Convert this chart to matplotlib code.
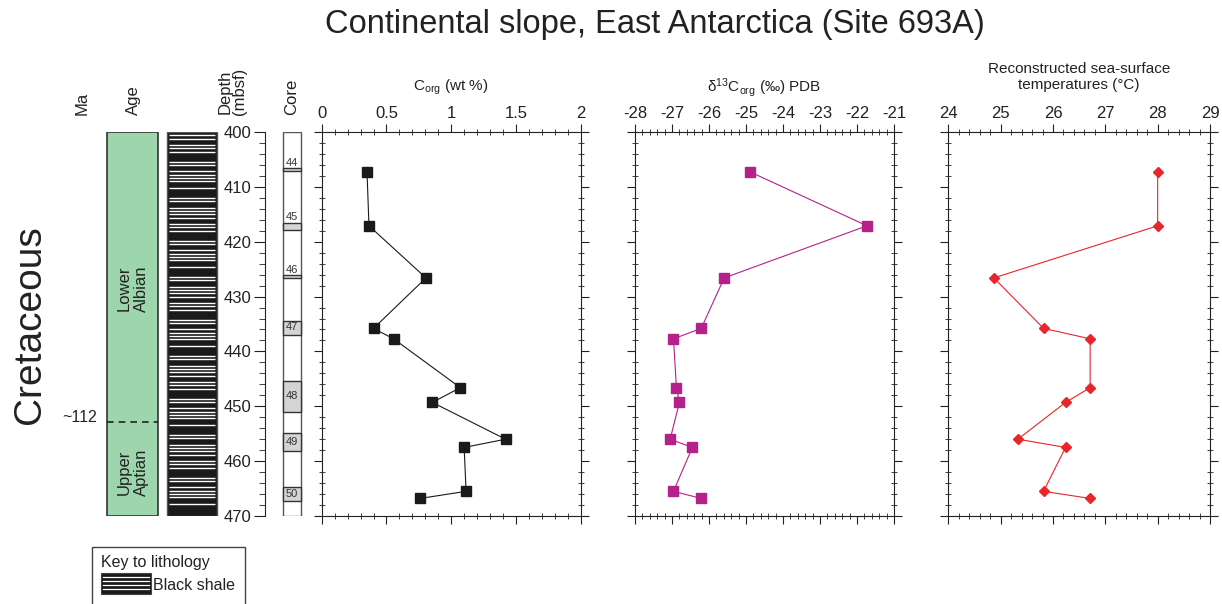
from matplotlib import pyplot as plt
from matplotlib.patches import Rectangle
from matplotlib.ticker import MultipleLocator
import numpy as np

plt.rcParams['font.family'] = ['Liberation Sans', 'DejaVu Sans']
plt.rcParams['mathtext.fontset'] = 'custom'
plt.rcParams['mathtext.rm'] = 'Liberation Sans'
plt.rcParams['mathtext.it'] = 'Liberation Sans:italic'

# sample depths (mbsf) and measured values
depth = [407.3, 417.1, 426.6, 435.8, 437.7, 446.6, 449.3, 456.0, 457.5, 465.5, 466.8]
corg = [0.35, 0.365, 0.805, 0.40, 0.555, 1.07, 0.855, 1.42, 1.10, 1.115, 0.76]
d13c = [-24.88, -21.73, -25.59, -26.21, -26.96, -26.88, -26.80, -27.05, -26.45, -26.96, -26.21]
sst = [28.0, 28.0, 24.87, 25.82, 26.71, 26.71, 26.24, 25.33, 26.24, 25.82, 26.71]

# cores: name, top, bottom of recovered interval, label depth
core_names = ['44', '45', '46', '47', '48', '49', '50']
core_top = [406.6, 416.5, 426.1, 434.4, 445.4, 454.9, 464.8]
core_bot = [407.2, 417.8, 426.6, 437.0, 451.1, 458.2, 467.2]
core_lab = [405.6, 415.5, 425.1, 435.6, 448.2, 456.6, 465.9]

age_boundary = 452.9
age_boundary_label = '~112'

W, H = 1222, 604
fig = plt.figure(figsize=(W / 100, H / 100), dpi=100)

y_top, y_bot = 132, 516
b = 1 - y_bot / H
h = (y_bot - y_top) / H

# overlay in pixel coordinates for headers and the key
ov = fig.add_axes([0, 0, 1, 1])
ov.set_xlim(0, W)
ov.set_ylim(H, 0)
ov.axis('off')

ov.text(655, 24, 'Continental slope, East Antarctica (Site 693A)', fontsize=23.5,
        ha='center', va='center', color='#222')
ov.text(30, 325, 'Cretaceous', fontsize=28, rotation=90, ha='center', va='center', color='#222')
for x, s in [(82, 'Ma'), (133, 'Age'), (232, 'Depth\n(mbsf)'), (292, 'Core')]:
    ov.text(x, 115, s, rotation=90, ha='center', va='bottom', fontsize=12,
            color='#222', linespacing=0.95)

# key to lithology
ov.add_patch(Rectangle((92, 547), 153, 62, facecolor='white', edgecolor='#444', lw=1))
ov.text(101, 563, 'Key to lithology', fontsize=11.5, va='center', color='#222')
ov.add_patch(Rectangle((101, 573), 50, 21, facecolor='#1a1a1a', edgecolor='#444', lw=0.8))
for yy in [577, 581, 585, 589]:
    ov.plot([103, 149], [yy, yy], color='white', lw=0.9)
ov.text(153, 585, 'Black shale', fontsize=11.5, va='center', color='#222')

# left columns drawn in depth coordinates
lx = fig.add_axes([0, b, 320 / W, h])
lx.set_xlim(0, 320)
lx.set_ylim(470, 400)
lx.axis('off')

lx.add_patch(Rectangle((107, 400), 51, 70, facecolor='#9dd5ad', edgecolor='#333', lw=1.2))
lx.hlines(age_boundary, 107, 158, colors='#222', linestyles=(0, (4, 3)), lw=1.2)
lx.text(97, age_boundary - 0.8, age_boundary_label, ha='right', va='center', fontsize=11.5, color='#222')
lx.text(133, 428.5, 'Lower\nAlbian', rotation=90, ha='center', va='center', fontsize=12,
        color='#222', linespacing=1.15)
lx.text(133, 462, 'Upper\nAptian', rotation=90, ha='center', va='center', fontsize=12,
        color='#222', linespacing=1.15)

lx.add_patch(Rectangle((167, 400), 50, 70, facecolor='#1a1a1a', edgecolor='#555', lw=1))
motif = [1, 1, 0, 1, 1, 1, 0, 0, 1, 1, 0, 1, 1, 1, 1, 0, 1, 0, 0, 1, 1, 0, 1, 1]
stripes = [400.6 + i * 0.6 for i in range(115) if motif[i % len(motif)]]
lx.hlines(stripes, 169, 215, colors='white', lw=1.0)

lx.add_patch(Rectangle((283, 400), 18, 70, facecolor='white', edgecolor='#555', lw=1))
for name, t, bt, lab in zip(core_names, core_top, core_bot, core_lab):
    lx.add_patch(Rectangle((283, t), 18, bt - t, facecolor='#d4d4d4', edgecolor='#333', lw=1))
    lx.text(292, lab, name, ha='center', va='center', fontsize=8, color='#333')

# depth scale
dx = fig.add_axes([265 / W, b, 0.5 / W, h])
dx.set_ylim(470, 400)
for s in ['top', 'right', 'bottom']:
    dx.spines[s].set_visible(False)
dx.spines['left'].set_color('#222')
dx.set_xticks([])
dx.yaxis.set_major_locator(MultipleLocator(10))
dx.yaxis.set_minor_locator(MultipleLocator(2))
dx.tick_params(axis='y', which='major', length=8, labelsize=12, pad=2, colors='#222')
dx.tick_params(axis='y', which='minor', length=4, colors='#222')

panels = [
    (321.7, 580.7, corg, (0, 2), 0.5, 0.1, 's', 6.5, '#1a1a1a', r'C$_{\mathrm{org}}$ (wt %)'),
    (635, 894, d13c, (-28, -21), 1, 0.2, 's', 6.5, '#b5208a', r'δ$^{13}$C$_{\mathrm{org}}$ (‰) PDB'),
    (948.3, 1210, sst, (24, 29), 1, 0.2, 'D', 5.5, '#e8262a',
     'Reconstructed sea-surface\ntemperatures (°C)'),
]
for x0, x1, vals, xl, maj, mnr, mk, ms, col, title in panels:
    ax = fig.add_axes([x0 / W, b, (x1 - x0) / W, h])
    ax.plot(vals, depth, color=col, lw=0.8, marker=mk, ms=ms, mfc=col, mec=col)
    ax.set_xlim(*xl)
    ax.set_ylim(470, 400)
    ax.xaxis.set_major_locator(MultipleLocator(maj))
    ax.xaxis.set_minor_locator(MultipleLocator(mnr))
    ax.yaxis.set_major_locator(MultipleLocator(10))
    ax.yaxis.set_minor_locator(MultipleLocator(2))
    ax.tick_params(which='both', top=True, bottom=True, left=True, right=True,
                   labeltop=True, labelbottom=False, labelleft=False, colors='#222')
    ax.tick_params(which='major', direction='out', length=6, labelsize=12, pad=2)
    ax.tick_params(which='minor', direction='inout', length=5)
    for s in ax.spines.values():
        s.set_color('#222')
    ty = 1.117 if '\n' not in title else 1.143
    ax.text(0.5, ty, title, transform=ax.transAxes, ha='center', va='center',
            fontsize=11, color='#222', linespacing=1.25)
    ax.xaxis.set_major_formatter(plt.FuncFormatter(lambda v, p: f'{v:g}'))

fig.savefig('out.png', dpi=100)
